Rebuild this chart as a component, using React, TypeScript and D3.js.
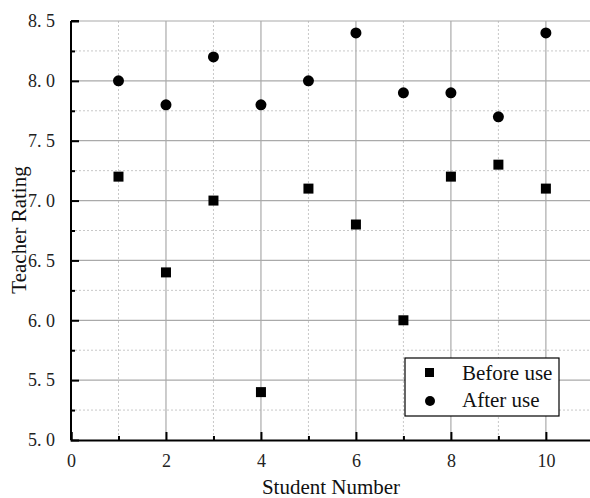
import React, { useRef, useEffect } from 'react';
import * as d3 from 'd3';

const students = [1, 2, 3, 4, 5, 6, 7, 8, 9, 10];
const beforeUse = [7.2, 6.4, 7.0, 5.4, 7.1, 6.8, 6.0, 7.2, 7.3, 7.1];
const afterUse = [8.0, 7.8, 8.2, 7.8, 8.0, 8.4, 7.9, 7.9, 7.7, 8.4];
const xTicks = [0, 2, 4, 6, 8, 10];
const yTicks = [5.0, 5.5, 6.0, 6.5, 7.0, 7.5, 8.0, 8.5];

const W = 590;
const H = 498;

const App: React.FC = () => {
  const svgRef = useRef<SVGSVGElement | null>(null);

  useEffect(() => {
    const svg = d3.select(svgRef.current);
    svg.selectAll('*').remove();

    const font = "'Times New Roman', 'Liberation Serif', serif";
    const x = d3.scaleLinear().domain([0, 10.95]).range([71, 591]);
    const y = d3.scaleLinear().domain([5, 8.5]).range([440, 21]);

    const minorX = d3.range(1, 11, 2);
    const minorY = d3.range(5.25, 8.5, 0.5);

    // grid
    const grid = svg.append('g');
    grid.selectAll('.mx').data(minorX).enter().append('line')
      .attr('x1', d => x(d)).attr('x2', d => x(d))
      .attr('y1', y(8.5)).attr('y2', y(5))
      .attr('stroke', '#c8c8c8').attr('stroke-dasharray', '2,2');
    grid.selectAll('.my').data(minorY).enter().append('line')
      .attr('x1', x(0)).attr('x2', W)
      .attr('y1', d => y(d)).attr('y2', d => y(d))
      .attr('stroke', '#c8c8c8').attr('stroke-dasharray', '2,2');
    grid.selectAll('.Mx').data(xTicks.filter(d => d > 0)).enter().append('line')
      .attr('x1', d => x(d)).attr('x2', d => x(d))
      .attr('y1', y(8.5)).attr('y2', y(5))
      .attr('stroke', '#aaaaaa').attr('stroke-width', 1.2);
    grid.selectAll('.My').data(yTicks.filter(d => d > 5)).enter().append('line')
      .attr('x1', x(0)).attr('x2', W)
      .attr('y1', d => y(d)).attr('y2', d => y(d))
      .attr('stroke', '#aaaaaa').attr('stroke-width', 1.2);

    // axes with inward ticks
    const xAxis = svg.append('g').attr('transform', `translate(0,${y(5)})`)
      .call(d3.axisBottom(x).tickValues(xTicks).tickSize(-8).tickPadding(14).tickFormat(d3.format('d')));
    svg.append('g').attr('transform', `translate(0,${y(5)})`)
      .call(d3.axisBottom(x).tickValues(minorX).tickSize(-4).tickFormat(() => ''))
      .call(g => g.select('.domain').remove());
    const yAxis = svg.append('g').attr('transform', `translate(${x(0)},0)`)
      .call(d3.axisLeft(y).tickValues(yTicks).tickSize(-8).tickPadding(16)
        .tickFormat(d => d3.format('.1f')(d as number).replace('.', '. ')));
    svg.append('g').attr('transform', `translate(${x(0)},0)`)
      .call(d3.axisLeft(y).tickValues(minorY).tickSize(-4).tickFormat(() => ''))
      .call(g => g.select('.domain').remove());

    svg.selectAll('.domain').attr('stroke', '#000').attr('stroke-width', 2);
    svg.selectAll('.tick line').attr('stroke', '#000').attr('stroke-width', 2);
    [xAxis, yAxis].forEach(a => {
      a.attr('font-family', null).attr('font-size', null);
      a.selectAll('text').style('font-family', font).style('font-size', '18px')
        .style('white-space', 'pre').attr('fill', '#222');
    });
    yAxis.select('.domain').attr('d', `M0,${y(8.5)}V${y(5)}`);
    yAxis.append('line').attr('x1', 0).attr('x2', 8).attr('y1', y(8.5)).attr('y2', y(8.5))
      .attr('stroke', '#000').attr('stroke-width', 2);

    // points
    svg.append('g').selectAll('rect').data(students).enter().append('rect')
      .attr('x', (d) => x(d) - 5).attr('y', (d, i) => y(beforeUse[i]) - 5)
      .attr('width', 10).attr('height', 10).attr('fill', '#000');
    svg.append('g').selectAll('circle').data(students).enter().append('circle')
      .attr('cx', d => x(d)).attr('cy', (d, i) => y(afterUse[i]))
      .attr('r', 5.5).attr('fill', '#000');

    // titles
    svg.append('text').attr('x', 331).attr('y', 494).attr('text-anchor', 'middle')
      .style('font-family', font).style('font-size', '21px').attr('fill', '#111').text('Student Number');
    svg.append('text').attr('transform', 'translate(26,230) rotate(-90)').attr('text-anchor', 'middle')
      .style('font-family', font).style('font-size', '21px').attr('fill', '#111').text('Teacher Rating');

    // legend
    const legend = svg.append('g').attr('transform', 'translate(405,358)');
    legend.append('rect').attr('width', 154).attr('height', 58)
      .attr('fill', '#fff').attr('stroke', '#000').attr('stroke-width', 1.2);
    legend.append('rect').attr('x', 20).attr('y', 10).attr('width', 9).attr('height', 9).attr('fill', '#000');
    legend.append('circle').attr('cx', 25).attr('cy', 43).attr('r', 5).attr('fill', '#000');
    legend.append('text').attr('x', 57).attr('y', 22).style('font-family', font).style('font-size', '21px')
      .attr('fill', '#111').text('Before use');
    legend.append('text').attr('x', 57).attr('y', 49).style('font-family', font).style('font-size', '21px')
      .attr('fill', '#111').text('After use');
  }, []);

  return <svg ref={svgRef} width={W} height={H} style={{ position: 'absolute', left: 0, top: 0 }}></svg>;
};

export default App;
